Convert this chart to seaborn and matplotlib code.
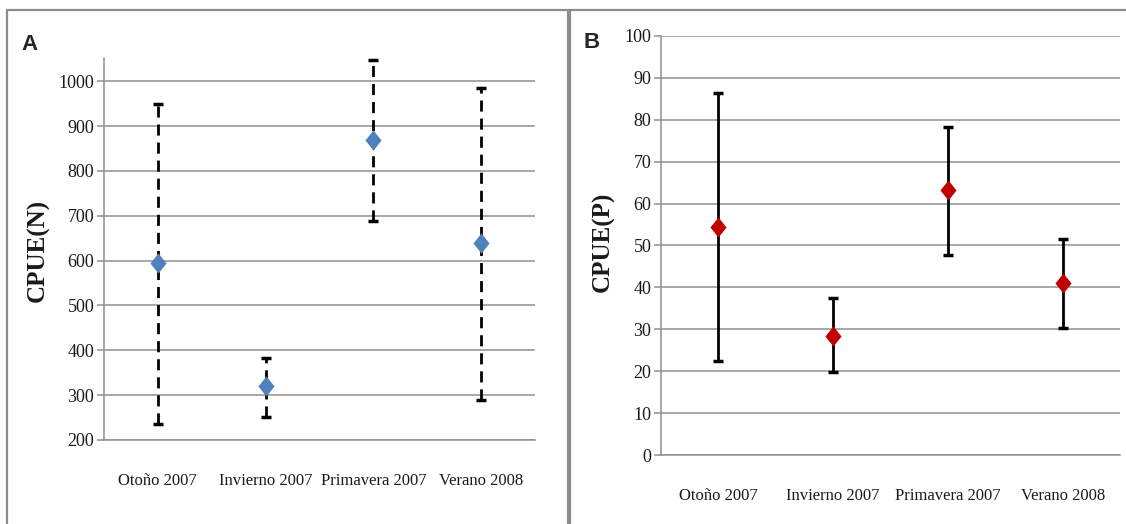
import numpy as np
import pandas as pd
import seaborn as sns
import matplotlib.pyplot as plt
from matplotlib.patches import Rectangle

# data
seasons = ["Otoño 2007", "Invierno 2007", "Primavera 2007", "Verano 2008"]
cpue_n = [595, 320, 868, 640]
cpue_n_low = [235, 252, 688, 290]
cpue_n_high = [950, 383, 1047, 985]
cpue_p = [54.5, 28.5, 63.3, 41.0]
cpue_p_low = [22.5, 19.7, 47.8, 30.3]
cpue_p_high = [86.3, 37.5, 78.3, 51.5]

sns.set_theme(style="white")
plt.rcParams["font.family"] = ["Liberation Serif", "DejaVu Serif"]

W, H = 1126, 524
fig = plt.figure(figsize=(W / 100, H / 100), dpi=100)

# panel frames
fig.patches.append(Rectangle((7 / W, -0.05), 561 / W, 1.05 - 10 / H, transform=fig.transFigure,
                             fill=False, edgecolor="#8c8c8c", linewidth=1.6))
fig.patches.append(Rectangle((570 / W, -0.05), 0.6, 1.05 - 10 / H, transform=fig.transFigure,
                             fill=False, edgecolor="#8c8c8c", linewidth=1.6))

diamond = [(0, 1), (0.8, 0), (0, -1), (-0.8, 0), (0, 1)]


def panel(rect, vals, low, high, color, ls, ylim, ticks):
    ax = fig.add_axes(rect)
    df = pd.DataFrame({"season": seasons, "val": vals})
    err = [np.array(vals) - np.array(low), np.array(high) - np.array(vals)]
    eb = ax.errorbar(seasons, vals, yerr=err, fmt="none", ecolor="black", elinewidth=2,
                     capsize=3.5, capthick=2.5, zorder=3)
    eb[2][0].set_linestyle(ls)
    sns.scatterplot(data=df, x="season", y="val", marker=diamond, s=210, color=color,
                    edgecolor=color, linewidth=0, ax=ax, zorder=4)
    ax.set_xlim(-0.5, 3.5)
    ax.set_ylim(*ylim)
    ax.set_yticks(ticks)
    ax.yaxis.grid(True, color="#8f8f8f", linewidth=1.1)
    ax.set_axisbelow(True)
    for s in ["top", "right"]:
        ax.spines[s].set_visible(False)
    for s in ["left", "bottom"]:
        ax.spines[s].set_color("#8f8f8f")
        ax.spines[s].set_linewidth(1.1)
    ax.tick_params(axis="y", length=5, width=1.1, color="#8f8f8f", labelsize=13, pad=2,
                   left=True, labelcolor="#1a1a1a")
    ax.tick_params(axis="x", length=0, labelsize=12, pad=24, labelcolor="#1a1a1a")
    ax.set_xlabel("")
    ax.set_ylabel("")
    return ax


ax1 = panel([104 / W, 1 - 440 / H, 431 / W, 382 / H], cpue_n, cpue_n_low, cpue_n_high,
            "#4f81bd", (0, (4, 2.5)), (200, 1052), range(200, 1001, 100))
ax2 = panel([661 / W, 1 - 455 / H, 459 / W, 419 / H], cpue_p, cpue_p_low, cpue_p_high,
            "#c00000", "-", (0, 100), range(0, 101, 10))

fig.text(38 / W, 1 - 250 / H, "CPUE(N)", rotation=90, ha="center", va="center",
         fontsize=18, fontweight="bold", color="#1a1a1a")
fig.text(603 / W, 1 - 242 / H, "CPUE(P)", rotation=90, ha="center", va="center",
         fontsize=18, fontweight="bold", color="#1a1a1a")
fig.text(30 / W, 1 - 45 / H, "A", ha="center", va="center", fontsize=16, fontweight="bold",
         family=["Liberation Sans Narrow", "Liberation Sans", "DejaVu Sans"])
fig.text(592 / W, 1 - 42 / H, "B", ha="center", va="center", fontsize=16, fontweight="bold",
         family=["Liberation Sans Narrow", "Liberation Sans", "DejaVu Sans"])

fig.savefig("out.png", dpi=100)
